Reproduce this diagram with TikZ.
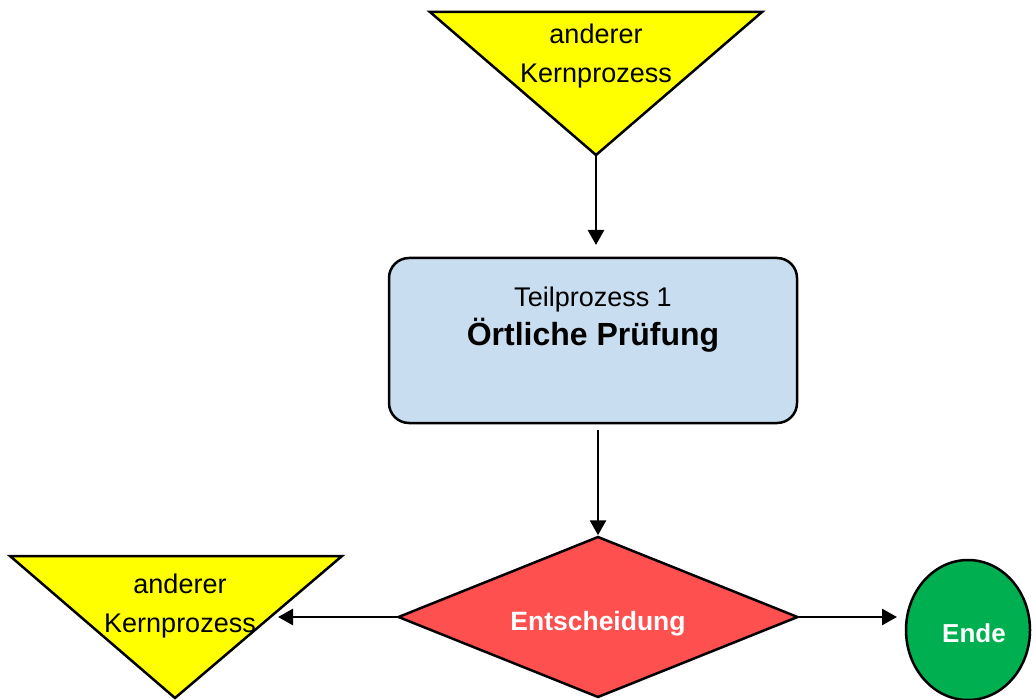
\documentclass[tikz,border=0pt]{standalone}
\usepackage{fontspec}
\setmainfont{Liberation Sans}
\usetikzlibrary{shapes.geometric,arrows.meta}
\definecolor{tyellow}{HTML}{FFFF00}
\definecolor{pblue}{HTML}{C9DDF0}
\definecolor{dred}{HTML}{FF5050}
\definecolor{egreen}{HTML}{00B050}
\tikzset{
  outline/.style={draw=black,line width=2.5pt,line join=miter},
  conn/.style={line width=2.7pt,-{Triangle[length=15pt,width=16pt]}},
  lbl/.style={align=center,inner sep=0pt,font=\fontsize{27}{39}\selectfont},
}
\begin{document}
\begin{tikzpicture}[x=1pt,y=-1pt]
\useasboundingbox (0,0) rectangle (1032,700);
% top triangle
\draw[outline,fill=tyellow] (430,12) -- (762,12) -- (596,155) -- cycle;
\coordinate (t1apex) at (596,155);
\node[lbl] (t1) at (596,56) {anderer\\Kernprozess};
% process box
\node[outline,fill=pblue,rounded corners=20pt,minimum width=408pt,minimum height=165pt,inner sep=0pt,align=center] (box) at (593,340.5) {};
\node[lbl] (boxtxt) at (593,320) {Teilprozess 1\\\fontsize{32}{38}\selectfont\bfseries Örtliche Prüfung};
% decision
\node[outline,fill=dred,diamond,minimum width=400pt,minimum height=161pt,inner sep=0pt] (dec) at (598,617) {};
\node[lbl,text=white,font=\fontsize{26.5}{30}\selectfont\bfseries] (dectxt) at (598,624) {Entscheidung};
% bottom-left triangle
\draw[outline,fill=tyellow] (10,556) -- (342,556) -- (175,698) -- cycle;
\node[lbl] (t2) at (180,606) {anderer\\Kernprozess};
\coordinate (t2in) at (278,617);
% end
\node[outline,fill=egreen,ellipse,minimum width=124pt,minimum height=140pt,inner sep=0pt] (ende) at (968,630) {};
\node[lbl,text=white,font=\fontsize{26}{30}\selectfont\bfseries] (endetxt) at (974,633) {Ende};
\coordinate (boxin) at (596,245);
\coordinate (boxout) at (598,430);
\coordinate (endein) at (897,617);
% connectors
\draw[conn] (t1apex) -- (boxin);
\draw[conn] (boxout) -- (dec.north);
\draw[conn] (dec.west) -- (t2in);
\draw[conn] (dec.east) -- (endein);
\end{tikzpicture}
\end{document}
